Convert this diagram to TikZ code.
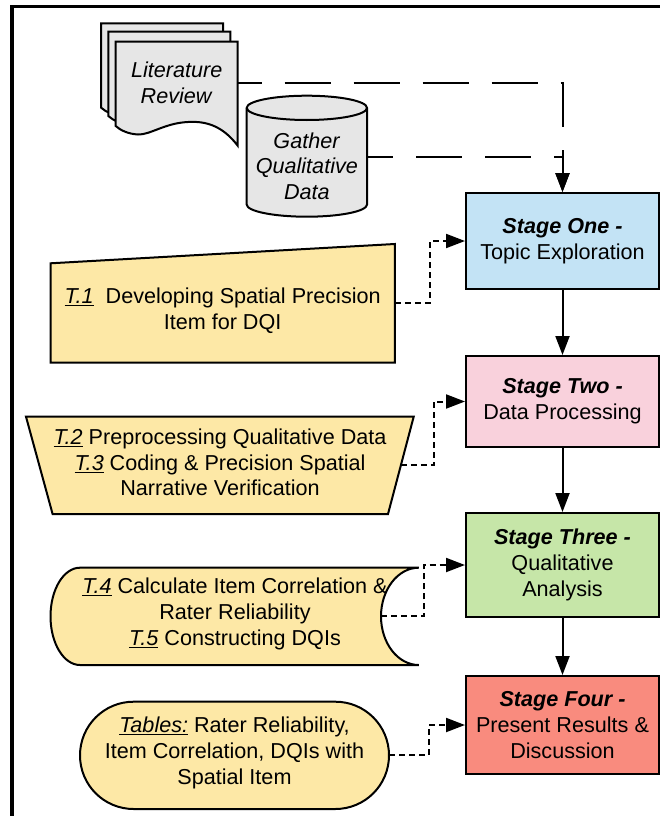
\documentclass[tikz,border=0pt]{standalone}
\usepackage{fontspec}
\setmainfont{Liberation Sans}
\usetikzlibrary{arrows.meta}
\definecolor{sblue}{HTML}{C3E3F5}
\definecolor{spink}{HTML}{F9D1DC}
\definecolor{sgreen}{HTML}{C6E6A8}
\definecolor{sred}{HTML}{F98B7E}
\definecolor{tyellow}{HTML}{FDE8A6}
\definecolor{docgray}{HTML}{E6E6E6}
\begin{document}
\begin{tikzpicture}[x=1pt,y=-1pt,
  txt/.style={align=center, font=\fontsize{21.6}{25.7}\selectfont, inner sep=0pt},
  stagebox/.style={txt, draw, line width=2pt, minimum width=193pt},
  shapeline/.style={draw=black, line width=2pt},
  tip/.style={-{Triangle[length=19pt,width=14pt]}},
  flow/.style={line width=2pt, tip},
  taskflow/.style={line width=2pt, dash pattern=on 6pt off 4pt, tip},
  srcflow/.style={line width=2pt, dash pattern=on 46pt off 23pt, dash phase=22pt, tip},
]
\useasboundingbox (0,0) rectangle (660,816);
% frame
\draw[line width=3.5pt] (12,820) -- (12,6.7) -- (665,6.7);

% literature review (stack of documents)
\foreach \dx/\dy in {-14.7/-18.4, -7.4/-10, 0/0}{
  \begin{scope}[shift={(\dx,\dy)}]
  \filldraw[shapeline, fill=docgray] (115.7,41.7) -- (237.7,41.7) -- (237.7,145.7)
    .. controls (222,125) and (205,121) .. (188,122)
    .. controls (165,123) and (150,135) .. (138,134.5)
    .. controls (128,134) and (120,130) .. (115.7,126) -- cycle;
  \end{scope}
}
\node[txt] (lit) at (176.7,82.5) {\textit{Literature}\\\textit{Review}};
\coordinate (litout) at (237.7,83);

% cylinder
\filldraw[shapeline, fill=docgray] (246.7,107.85) -- (246.7,204.55)
  .. controls (246.7,211.26) and (273.65,216.7) .. (306.85,216.7)
  .. controls (340.05,216.7) and (367,211.26) .. (367,204.55) -- (367,107.85)
  .. controls (367,101.14) and (340.05,95.7) .. (306.85,95.7)
  .. controls (273.65,95.7) and (246.7,101.14) .. (246.7,107.85) -- cycle;
\draw[shapeline] (246.7,107.85) .. controls (246.7,114.56) and (273.65,120) .. (306.85,120)
  .. controls (340.05,120) and (367,114.56) .. (367,107.85);
\node[txt] (cyl) at (306.85,166) {\textit{Gather}\\\textit{Qualitative}\\\textit{Data}};
\coordinate (cylout) at (367,157);

% stages
\node[stagebox, fill=sblue, minimum height=96pt] (s1) at (562.5,241)
  {\textbf{\textit{Stage One -}}\\Topic Exploration};
\node[stagebox, fill=spink, minimum height=91pt] (s2) at (562.5,401.5)
  {\textbf{\textit{Stage Two -}}\\Data Processing};
\node[stagebox, fill=sgreen, minimum height=104pt] (s3) at (562.5,565)
  {\textbf{\textit{Stage Three -}}\\Qualitative\\Analysis};
\node[stagebox, fill=sred, minimum height=98pt] (s4) at (562.5,725)
  {\textbf{\textit{Stage Four -}}\\Present Results \&\\Discussion};

\draw[flow] (s1.south) -- (s2.north);
\draw[flow] (s2.south) -- (s3.north);
\draw[flow] (s3.south) -- (s4.north);

% task shapes
\filldraw[shapeline, fill=tyellow] (50.5,263.3) -- (394.8,244) -- (394.8,362.7) -- (50.5,362.7) -- cycle;
\node[txt] (t1) at (222.6,311) {\underline{\textit{T.1}}~~Developing Spatial Precision\\Item for DQI};
\coordinate (t1out) at (394.8,302.7);

\filldraw[shapeline, fill=tyellow] (26,416.7) -- (413.7,416.7) -- (388,514) -- (52.6,514) -- cycle;
\node[txt] (t23) at (220,462.5) {\underline{\textit{T.2}} Preprocessing Qualitative Data\\\underline{\textit{T.3}} Coding \& Precision Spatial\\Narrative Verification};
\coordinate (t23out) at (400.9,465);

\filldraw[shapeline, fill=tyellow] (80,567.7) -- (418.8,567.7)
  .. controls (397.9,567.7) and (381,589.5) .. (381,616.35)
  .. controls (381,643.2) and (397.9,665) .. (418.8,665) -- (80,665)
  .. controls (63.7,665) and (50.5,643.2) .. (50.5,616.35)
  .. controls (50.5,589.5) and (63.7,567.7) .. (80,567.7) -- cycle;
\node[txt] (t45) at (235,614) {\underline{\textit{T.4}} Calculate Item Correlation \&\\Rater Reliability\\\underline{\textit{T.5}} Constructing DQIs};
\coordinate (t45out) at (381,616.35);

\filldraw[shapeline, fill=tyellow, rounded corners=53.6pt] (80,701.7) rectangle (389,809);
\node[txt] (tab) at (234.5,753) {\underline{\textit{Tables:}} Rater Reliability,\\Item Correlation, DQIs with\\Spatial Item};
\coordinate (tabout) at (389,755);

% task connectors
\draw[taskflow] (t1out) -- ++(35.2,0) |- (s1.west);
\draw[taskflow] (t23out) -- ++(32.6,0) |- (s2.west);
\draw[taskflow] (t45out) -- ++(43,0) |- (s3.west);
\draw[taskflow] (tabout) -- ++(39.5,0) |- (s4.west);

% source connectors
\draw[srcflow] (litout) -| (s1.north);
\draw[srcflow, dash phase=20pt] (cylout) -| (s1.north);
\end{tikzpicture}
\end{document}
